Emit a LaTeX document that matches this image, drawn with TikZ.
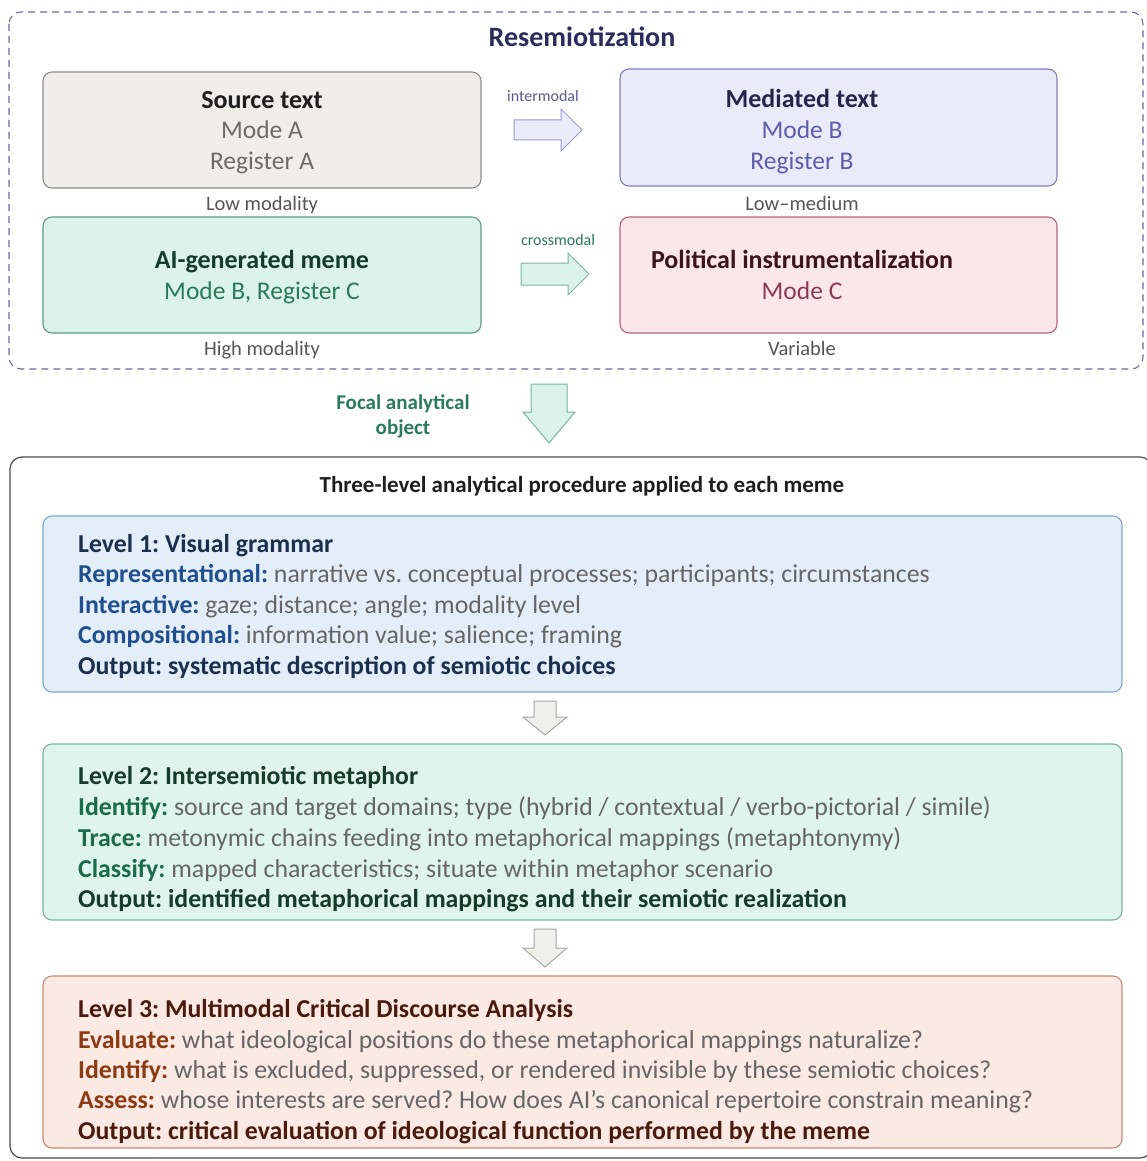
\documentclass[tikz,border=0pt]{standalone}
\usepackage{fontspec}
\setmainfont{Carlito}
\frenchspacing
\newcommand\myfs[1]{\fontsize{#1}{#1}\selectfont}
\definecolor{dashc}{HTML}{6A6A9A}
\definecolor{resc}{HTML}{2B2B5E}
\definecolor{lblc}{HTML}{555555}
\definecolor{srcfill}{HTML}{EFEEEA}\definecolor{srcdraw}{HTML}{8C8C8C}\definecolor{srctit}{HTML}{1E1E1E}\definecolor{srcsub}{HTML}{6B6B6B}
\definecolor{medfill}{HTML}{EAEAFA}\definecolor{meddraw}{HTML}{8080B8}\definecolor{medtit}{HTML}{26264D}\definecolor{medsub}{HTML}{5C5CAA}
\definecolor{aifill}{HTML}{DCF3EB}\definecolor{aidraw}{HTML}{5F9C84}\definecolor{aitit}{HTML}{163A2C}\definecolor{aisub}{HTML}{2A7A5C}
\definecolor{polfill}{HTML}{FBE6EC}\definecolor{poldraw}{HTML}{B86478}\definecolor{poltit}{HTML}{3A141E}\definecolor{polsub}{HTML}{8C3A52}
\definecolor{imfill}{HTML}{EBEBFA}\definecolor{imdraw}{HTML}{9A9AD0}\definecolor{imlbl}{HTML}{5A5A8C}
\definecolor{cmfill}{HTML}{DCF3EB}\definecolor{cmdraw}{HTML}{7AB59C}
\definecolor{outc}{HTML}{4A4A4A}
\definecolor{bodyc}{HTML}{666666}
\definecolor{lafill}{HTML}{E4EEF9}\definecolor{ladraw}{HTML}{7FA6CF}\definecolor{latit}{HTML}{1B2F4F}\definecolor{lakey}{HTML}{1F4F8F}
\definecolor{lbfill}{HTML}{DFF4EC}\definecolor{lbdraw}{HTML}{7AB59C}\definecolor{lbtit}{HTML}{163A2C}\definecolor{lbkey}{HTML}{1A6A4C}
\definecolor{lcfill}{HTML}{FBE9E3}\definecolor{lcdraw}{HTML}{C88A78}\definecolor{lctit}{HTML}{4A1A0E}\definecolor{lckey}{HTML}{8C3A12}
\definecolor{gafill}{HTML}{EFEFEB}\definecolor{gadraw}{HTML}{A8A8A8}
\begin{document}
\begin{tikzpicture}[x=1pt,y=-1pt,
  box/.style={rounded corners=9pt, line width=1.1pt},
  txt/.style={inner sep=0pt, anchor=base},
  ltxt/.style={inner sep=0pt, anchor=base west, font=\myfs{25.8}},
  ttl/.style={txt, font=\myfs{26}\bfseries},
  sub/.style={txt, font=\myfs{25.5}},
  lbl/.style={txt, font=\myfs{20.5}, text=lblc},
  blk/.style={line width=1pt, line join=miter}]
\useasboundingbox (0,0) rectangle (1146,1161);
% Resemiotization frame
\draw[dashc, dashed, dash pattern=on 7pt off 5pt, line width=1.1pt, rounded corners=12pt] (9,12) rectangle (1143,369);
\node[txt, font=\myfs{28}\bfseries, text=resc] (res) at (582,47) {Resemiotization};
% top boxes
\draw[box, fill=srcfill, draw=srcdraw] (43,72) rectangle (481,188);
\node[ttl, text=srctit] (s1) at (262,109) {Source text};
\node[sub, text=srcsub] (s2) at (262,139) {Mode A};
\node[sub, text=srcsub] (s3) at (262,170) {Register A};
\node[lbl] (s4) at (262,210) {Low modality};
\draw[box, fill=medfill, draw=meddraw] (620,69) rectangle (1057,186);
\node[ttl, text=medtit] (m1) at (802,108) {Mediated text};
\node[sub, text=medsub] (m2) at (802,139) {Mode B};
\node[sub, text=medsub] (m3) at (802,170) {Register B};
\node[lbl] (m4) at (802,210) {Low–medium};
\draw[box, fill=aifill, draw=aidraw] (43,217) rectangle (481,333);
\node[ttl, text=aitit] (a1) at (262,268) {AI-generated meme};
\node[sub, text=aisub] (a2) at (262,299) {Mode B, Register C};
\node[lbl] (a3) at (262,355) {High modality};
\draw[box, fill=polfill, draw=poldraw] (620,217) rectangle (1057,333);
\node[ttl, text=poltit] (p1) at (802,268) {Political instrumentalization};
\node[sub, text=polsub] (p2) at (802,299) {Mode C};
\node[lbl] (p3) at (802,355) {Variable};
% intermodal arrow
\draw[blk, fill=imfill, draw=imdraw] (514,120) -- (561,120) -- (561,109) -- (582,130) -- (561,151) -- (561,140) -- (514,140) -- cycle;
\node[txt, font=\myfs{16}, text=imlbl] (im) at (543,102) {intermodal};
% crossmodal arrow
\draw[blk, fill=cmfill, draw=cmdraw] (521,263) -- (568,263) -- (568,253) -- (589,274) -- (568,295) -- (568,285) -- (521,285) -- cycle;
\node[txt, font=\myfs{16}, text=aisub] (cm) at (558,245) {crossmodal};
% focal arrow
\draw[blk, fill=cmfill, draw=cmdraw] (531,384) -- (567,384) -- (567,412) -- (575,412) -- (549,443) -- (523,412) -- (531,412) -- cycle;
\node[txt, font=\myfs{21}\bfseries, text=aisub] (fo1) at (403,409) {Focal analytical};
\node[txt, font=\myfs{21}\bfseries, text=aisub] (fo2) at (403,434) {object};
% analytical frame
\draw[outc, line width=1.2pt, rounded corners=12pt] (10,457) rectangle (1152,1158);
\node[txt, font=\myfs{23}\bfseries, text=srctit] (thr) at (582,492) {Three-level analytical procedure applied to each meme};
% Level 1
\draw[box, fill=lafill, draw=ladraw] (43,516) rectangle (1122,692);
\node[ltxt, text=latit, font=\myfs{25.8}\bfseries] (l1a) at (78,552) {Level 1: Visual grammar};
\node[ltxt, text=bodyc] (l1b) at (78,582.5) {\textbf{\color{lakey}Representational:} narrative vs. conceptual processes; participants; circumstances};
\node[ltxt, text=bodyc] (l1c) at (78,613) {\textbf{\color{lakey}Interactive:} gaze; distance; angle; modality level};
\node[ltxt, text=bodyc] (l1d) at (78,643.5) {\textbf{\color{lakey}Compositional:} information value; salience; framing};
\node[ltxt, text=latit, font=\myfs{25.8}\bfseries] (l1e) at (78,674) {Output: systematic description of semiotic choices};
% arrow 1
\draw[blk, fill=gafill, draw=gadraw] (534,701) -- (556,701) -- (556,717) -- (567,717) -- (545,735) -- (523,717) -- (534,717) -- cycle;
% Level 2
\draw[box, fill=lbfill, draw=lbdraw] (43,744) rectangle (1122,920);
\node[ltxt, text=lbtit, font=\myfs{25.8}\bfseries] (l2a) at (78,784) {Level 2: Intersemiotic metaphor};
\node[ltxt, text=bodyc] (l2b) at (78,815) {\textbf{\color{lbkey}Identify:} source and target domains; type (hybrid / contextual / verbo-pictorial / simile)};
\node[ltxt, text=bodyc] (l2c) at (78,846) {\textbf{\color{lbkey}Trace:} metonymic chains feeding into metaphorical mappings (metaphtonymy)};
\node[ltxt, text=bodyc] (l2d) at (78,877) {\textbf{\color{lbkey}Classify:} mapped characteristics; situate within metaphor scenario};
\node[ltxt, text=lbtit, font=\myfs{25.8}\bfseries] (l2e) at (78,907) {Output: identified metaphorical mappings and their semiotic realization};
% arrow 2
\draw[blk, fill=gafill, draw=gadraw] (534,929) -- (556,929) -- (556,948) -- (567,948) -- (545,967) -- (523,948) -- (534,948) -- cycle;
% Level 3
\draw[box, fill=lcfill, draw=lcdraw] (43,976) rectangle (1122,1148);
\node[ltxt, text=lctit, font=\myfs{25.8}\bfseries] (l3a) at (78,1017) {Level 3: Multimodal Critical Discourse Analysis};
\node[ltxt, text=bodyc] (l3b) at (78,1048) {\textbf{\color{lckey}Evaluate:} what ideological positions do these metaphorical mappings naturalize?};
\node[ltxt, text=bodyc] (l3c) at (78,1078) {\textbf{\color{lckey}Identify:} what is excluded, suppressed, or rendered invisible by these semiotic choices?};
\node[ltxt, text=bodyc] (l3d) at (78,1108) {\textbf{\color{lckey}Assess:} whose interests are served? How does AI’s canonical repertoire constrain meaning?};
\node[ltxt, text=lctit, font=\myfs{25.8}\bfseries] (l3e) at (78,1139) {Output: critical evaluation of ideological function performed by the meme};
\end{tikzpicture}
\end{document}
